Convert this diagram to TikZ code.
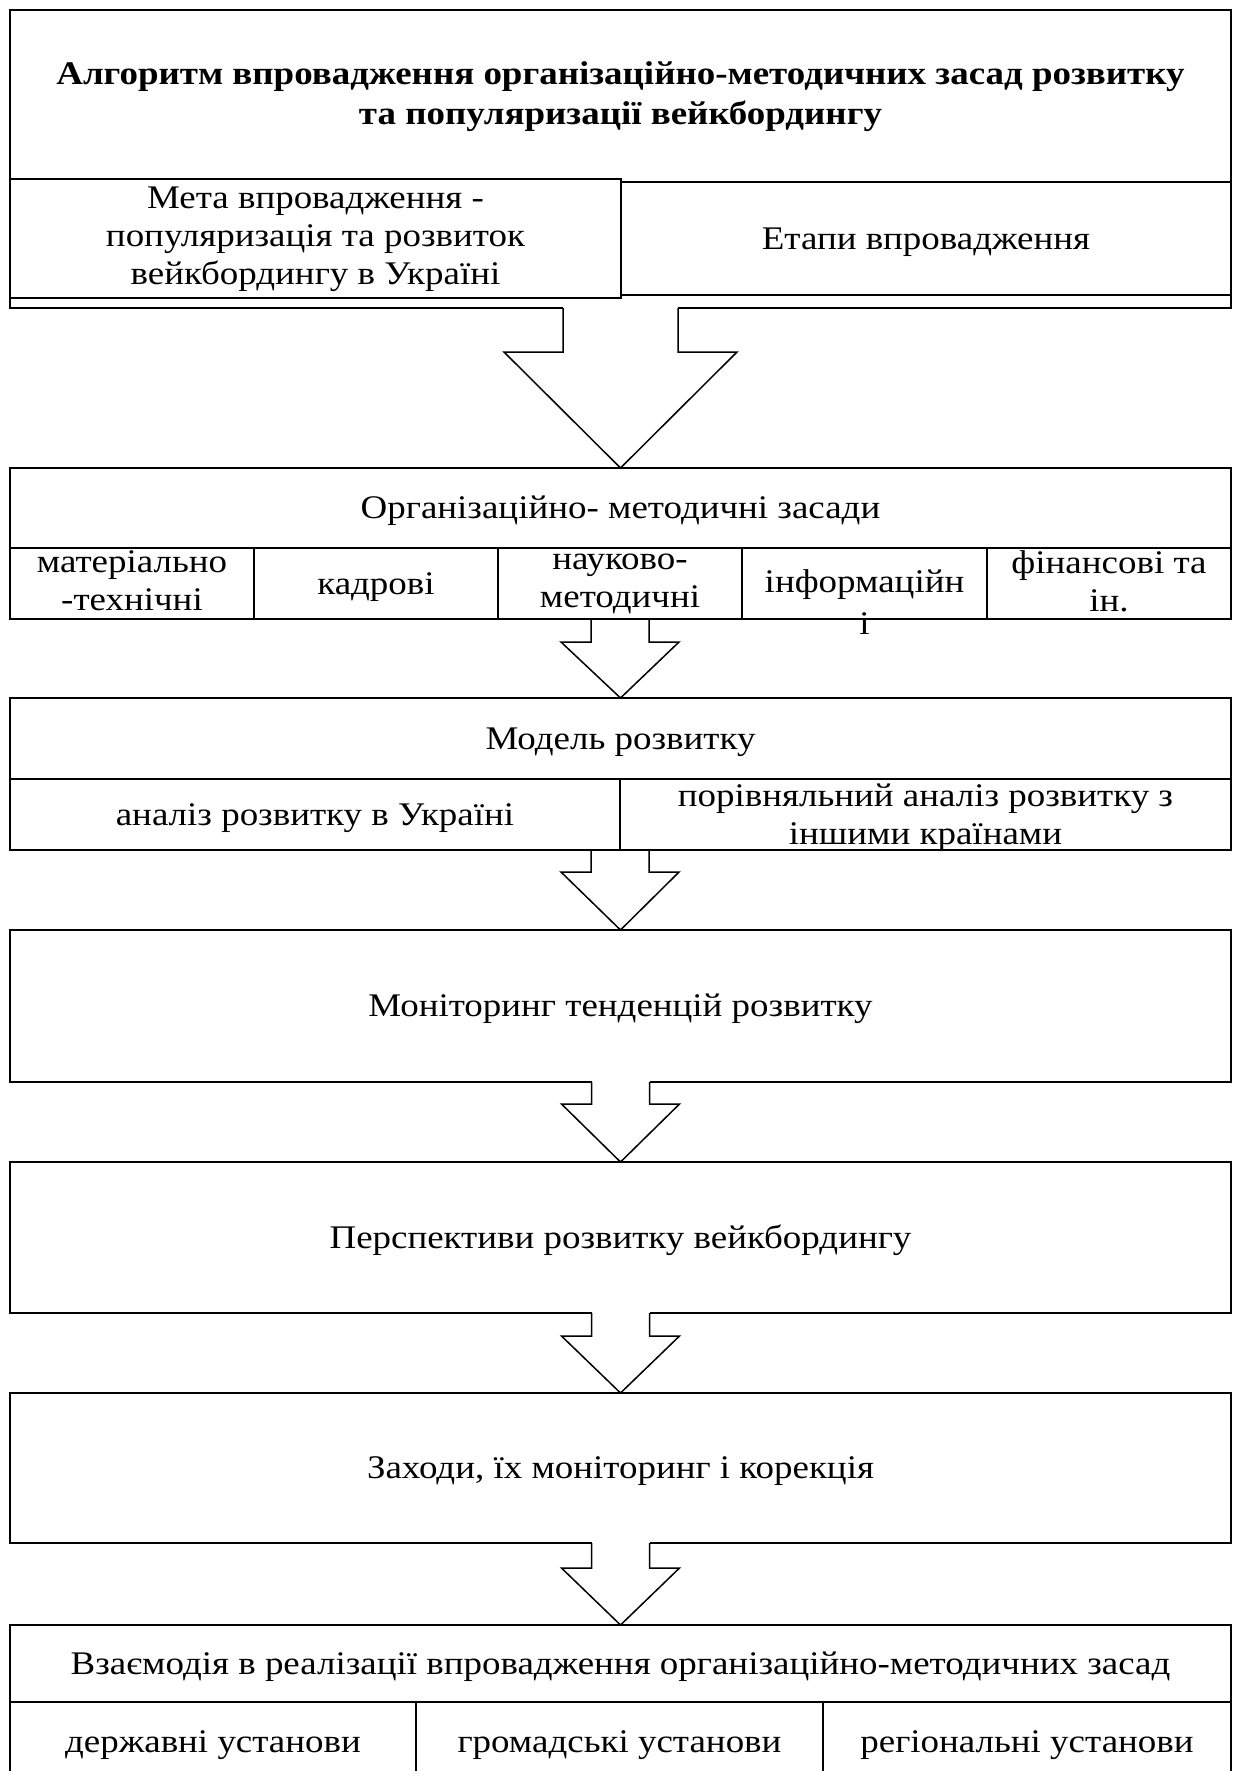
\documentclass[tikz,border=0pt]{standalone}
\usepackage{fontspec}
\setmainfont{Liberation Serif}[FakeStretch=1.12]
\usetikzlibrary{calc}
\begin{document}
\begin{tikzpicture}[x=1pt,y=-1pt,
  box/.style={draw, line width=1.9pt, fill=white, inner sep=0pt, outer sep=0pt, anchor=north west},
  txt/.style={inner sep=0pt, align=center, yshift=-3pt, font=\fontsize{33}{38}\selectfont,
    execute at begin node=\strut, execute at end node=\strut},
  ttl/.style={inner sep=0pt, align=center, yshift=-3pt, font=\fontsize{33}{40}\selectfont\bfseries,
    execute at begin node=\strut, execute at end node=\strut},
  barrow/.style={draw, line width=1.5pt, line join=miter},
  gap/.style={fill=white},
]
\useasboundingbox (0,0) rectangle (1234,1771);

% title
\node[box, minimum width=1221pt, minimum height=172pt] (title) at (10,10) {};
% callout strip behind goal/stages
\node[box, minimum width=1221pt, minimum height=126pt] (strip) at (10,182) {};
\node[box, minimum width=611pt, minimum height=119pt] (meta) at (10,179) {};
\node[box, minimum width=610pt, minimum height=113pt] (etapy) at (621,182) {};

% organisational basis
\node[box, minimum width=1221pt, minimum height=80pt] (org) at (10,468) {};
\node[box, minimum width=244pt, minimum height=71pt] (o1) at (10,548) {};
\node[box, minimum width=244pt, minimum height=71pt] (o2) at (254,548) {};
\node[box, minimum width=244pt, minimum height=71pt] (o3) at (498,548) {};
\node[box, minimum width=245pt, minimum height=71pt] (o4) at (742,548) {};
\node[box, minimum width=244pt, minimum height=71pt] (o5) at (987,548) {};

% model
\node[box, minimum width=1221pt, minimum height=81pt] (model) at (10,698) {};
\node[box, minimum width=610pt, minimum height=71pt] (m1) at (10,779) {};
\node[box, minimum width=611pt, minimum height=71pt] (m2) at (620,779) {};

% single boxes
\node[box, minimum width=1221pt, minimum height=152pt] (mon) at (10,930) {};
\node[box, minimum width=1221pt, minimum height=151pt] (persp) at (10,1162) {};
\node[box, minimum width=1221pt, minimum height=150pt] (zakh) at (10,1393) {};

% interaction
\node[box, minimum width=1221pt, minimum height=77pt] (vz) at (10,1625) {};
\node[box, minimum width=406pt, minimum height=86pt] (v1) at (10,1702) {};
\node[box, minimum width=407pt, minimum height=86pt] (v2) at (416,1702) {};
\node[box, minimum width=408pt, minimum height=86pt] (v3) at (823,1702) {};

% arrows
\fill[gap] ($(strip.south)+(-57.5,-1.5)$) rectangle ($(strip.south)+(57.5,1.5)$);
\draw[barrow] ($(strip.south)+(-57.5,0)$) -- ++(0,44) -- ++(-59,0) -- (org.north)
  -- ($(strip.south)+(116.5,44)$) -- ++(-59,0) -- ++(0,-44);

\draw[barrow] ($(o3.south)+(-29,0)$) -- ++(0,23) -- ++(-30,0) -- (model.north)
  -- ($(o3.south)+(59,23)$) -- ++(-30,0) -- ++(0,-23);

\draw[barrow] ($(m1.south east)+(-29,0)$) -- ++(0,22) -- ++(-30,0) -- (mon.north)
  -- ($(m1.south east)+(59,22)$) -- ++(-30,0) -- ++(0,-22);

\fill[gap] ($(mon.south)+(-29,-1.5)$) rectangle ($(mon.south)+(29,1.5)$);
\draw[barrow] ($(mon.south)+(-29,0)$) -- ++(0,22) -- ++(-30,0) -- (persp.north)
  -- ($(mon.south)+(59,22)$) -- ++(-30,0) -- ++(0,-22);

\fill[gap] ($(persp.south)+(-29,-1.5)$) rectangle ($(persp.south)+(29,1.5)$);
\draw[barrow] ($(persp.south)+(-29,0)$) -- ++(0,23) -- ++(-30,0) -- (zakh.north)
  -- ($(persp.south)+(59,23)$) -- ++(-30,0) -- ++(0,-23);

\fill[gap] ($(zakh.south)+(-29,-1.5)$) rectangle ($(zakh.south)+(29,1.5)$);
\draw[barrow] ($(zakh.south)+(-29,0)$) -- ++(0,25) -- ++(-30,0) -- (vz.north)
  -- ($(zakh.south)+(59,25)$) -- ++(-30,0) -- ++(0,-25);

% texts
\node[ttl] (titleT) at (title.center) {Алгоритм впровадження організаційно-методичних засад розвитку\\та популяризації вейкбордингу};
\node[txt] (metaT) at (meta.center) {Мета впровадження -\\популяризація та розвиток\\вейкбордингу в Україні};
\node[txt] (etapyT) at (etapy.center) {Етапи впровадження};
\node[txt] (orgT) at (org.center) {Організаційно- методичні засади};
\node[txt] (o1T) at (o1.center) {матеріально\\-технічні};
\node[txt] (o2T) at (o2.center) {кадрові};
\node[txt] (o3T) at (o3.center) {науково-\\методичні};
\node[txt, yshift=2pt] (o4T) at (o4.center) {інформаційн};
\node[txt, anchor=north, yshift=-1pt] (o4T2) at (o4T.south) {і};
\node[txt] (o5T) at (o5.center) {фінансові та\\ін.};
\node[txt] (modelT) at (model.center) {Модель розвитку};
\node[txt] (m1T) at (m1.center) {аналіз розвитку в Україні};
\node[txt, yshift=-2pt] (m2T) at (m2.center) {порівняльний аналіз розвитку з\\іншими країнами};
\node[txt] (monT) at (mon.center) {Моніторинг тенденцій розвитку};
\node[txt] (perspT) at (persp.center) {Перспективи розвитку вейкбордингу};
\node[txt] (zakhT) at (zakh.center) {Заходи, їх моніторинг і корекція};
\node[txt] (vzT) at (vz.center) {Взаємодія в реалізації впровадження організаційно-методичних засад};
\node[txt, yshift=3pt] (v1T) at (v1.center) {державні установи};
\node[txt, yshift=3pt] (v2T) at (v2.center) {громадські установи};
\node[txt, yshift=3pt] (v3T) at (v3.center) {регіональні установи};
\end{tikzpicture}
\end{document}
